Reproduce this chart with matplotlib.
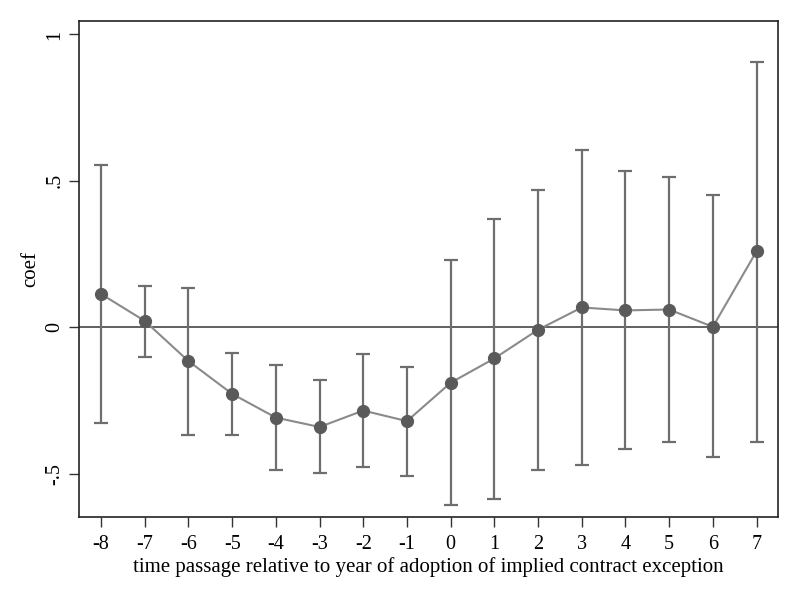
import matplotlib
matplotlib.use("Agg")
import matplotlib.pyplot as plt

# event time and coefficient estimates with CI bounds
periods = [-8, -7, -6, -5, -4, -3, -2, -1, 0, 1, 2, 3, 4, 5, 6, 7]
coef = [0.114, 0.022, -0.115, -0.227, -0.308, -0.340, -0.284, -0.320,
        -0.189, -0.106, -0.008, 0.068, 0.058, 0.061, 0.002, 0.260]
upper = [0.554, 0.143, 0.135, -0.087, -0.129, -0.180, -0.090, -0.136,
         0.230, 0.371, 0.470, 0.606, 0.534, 0.513, 0.452, 0.905]
lower = [-0.326, -0.100, -0.367, -0.368, -0.488, -0.497, -0.476, -0.506,
         -0.606, -0.586, -0.488, -0.469, -0.416, -0.391, -0.442, -0.391]
yticks = [-0.5, 0, 0.5, 1]
ytick_labels = ["-.5", "0", ".5", "1"]

plt.rcParams['font.family'] = ['Liberation Serif', 'DejaVu Serif']

fig = plt.figure(figsize=(8, 6), dpi=100)
ax = fig.add_axes([0.099, 0.138, 0.874, 0.827])

ax.axhline(0, color='#555555', lw=1.3, zorder=1)

err_lo = [c - l for c, l in zip(coef, lower)]
err_hi = [u - c for c, u in zip(coef, upper)]
ax.errorbar(periods, coef, yerr=[err_lo, err_hi], fmt='none',
            ecolor='#6e6e6e', elinewidth=1.6, capsize=5, capthick=1.6, zorder=2)
ax.plot(periods, coef, color='#8a8a8a', lw=1.5, zorder=3)
ax.plot(periods, coef, 'o', color='#5a5a5a', ms=8.5, zorder=4)

ax.set_xlim(-8.5, 7.5)
ax.set_ylim(-0.648, 1.046)
ax.set_xticks(periods)
ax.set_xticklabels([str(p) for p in periods], fontsize=14.5)
ax.set_yticks(yticks)
ax.set_yticklabels(ytick_labels, fontsize=14.5, rotation=90, va='center')
ax.tick_params(axis='both', direction='out', length=7, width=1, color='#333333')
ax.tick_params(axis='x', pad=6)

ax.set_xlabel("time passage relative to year of adoption of implied contract exception",
              fontsize=15, labelpad=2)
ax.set_ylabel("coef", fontsize=15, labelpad=4)

for s in ax.spines.values():
    s.set_linewidth(1.2)
    s.set_color('#222222')

fig.savefig("out.png", dpi=100)
